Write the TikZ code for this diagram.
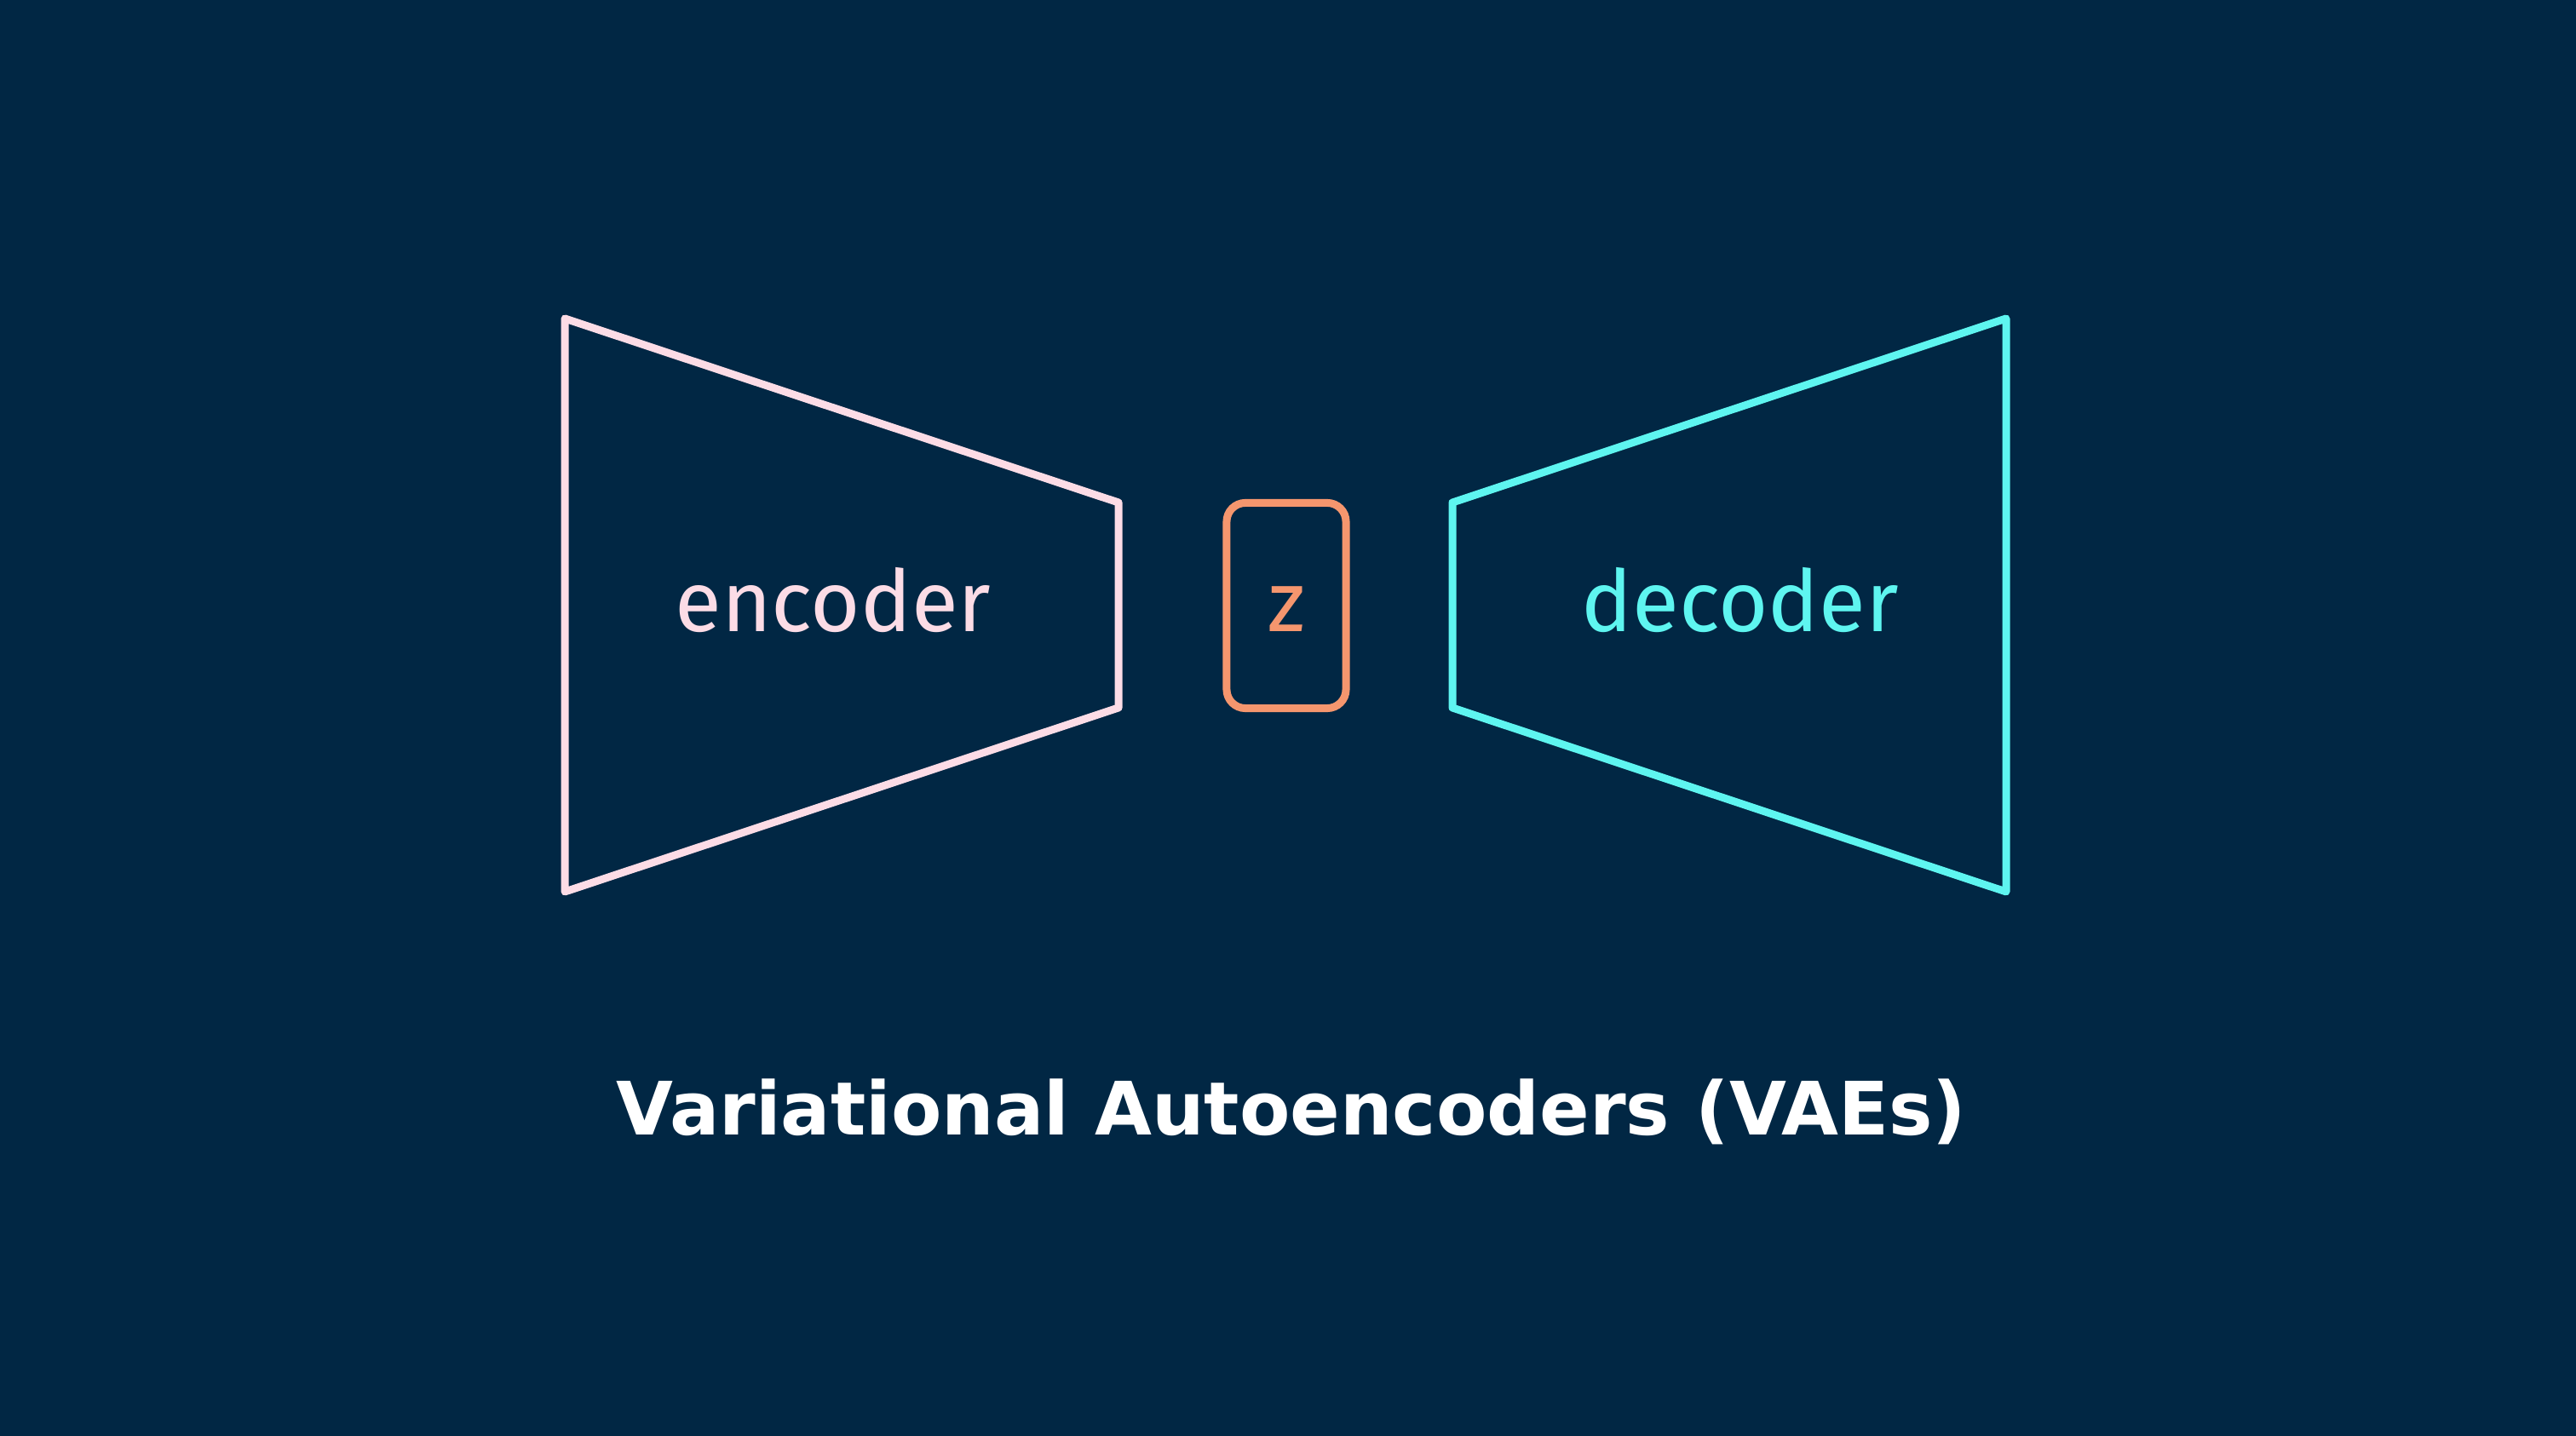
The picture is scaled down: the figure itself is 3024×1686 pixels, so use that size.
\documentclass[tikz,border=0pt]{standalone}
\usepackage{fontspec}
\setmainfont{DejaVu Sans}
\newfontfamily\partfont{Fira Sans}
\usepackage{xcolor}
\usepackage{tikz}
\usetikzlibrary{positioning}
\definecolor{vaebg}{HTML}{012744}
\definecolor{encpink}{HTML}{FCDCE6}
\definecolor{decteal}{HTML}{5EF5F0}
\definecolor{latentorange}{HTML}{F5966E}

\begin{document}
\begin{tikzpicture}[
    x=0.01cm, y=-0.01cm,
    block/.style={
        line width=0.09cm,
        line join=round
    },
    partlabel/.style={
        anchor=base,
        inner sep=0pt,
        font=\partfont\fontsize{28.5}{30}\selectfont
    },
    latent/.style={
        rectangle,
        rounded corners=0.22cm,
        draw=latentorange,
        line width=0.09cm,
        minimum width=1.40cm,
        minimum height=2.41cm,
        inner sep=0pt
    },
    caption/.style={
        anchor=base,
        inner sep=0pt,
        text=white,
        font=\bfseries\fontsize{24.6}{28}\selectfont
    }
]
    \fill[vaebg] (0,0) rectangle (3024,1686);
    \useasboundingbox (0,0) rectangle (3024,1686);

    % encoder and decoder funnels
    \draw[block, draw=encpink] (663,374) -- (1313,590) -- (1313,831)
        -- (663,1047) -- cycle;
    \draw[block, draw=decteal] (2355,374) -- (1705,590) -- (1705,831)
        -- (2355,1047) -- cycle;

    \node[partlabel, text=encpink] (encoder) at (978,742) {encoder};
    \node[partlabel, text=decteal] (decoder) at (2043,742) {decoder};

    % latent code
    \node[latent] (z) at (1510,711) {};
    \node[partlabel, text=latentorange] (zlabel) at (1510,742) {z};

    \node[caption] (title) at (1516,1333) {Variational Autoencoders (VAEs)};
\end{tikzpicture}
\end{document}
